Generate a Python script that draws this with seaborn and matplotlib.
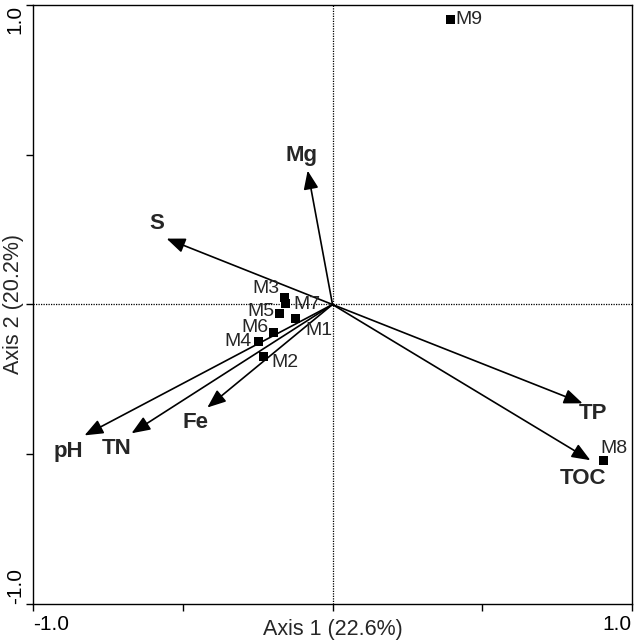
import matplotlib
matplotlib.use("Agg")
import matplotlib.pyplot as plt
import seaborn as sns
import pandas as pd

# Sample scores
samples = ["M1", "M2", "M3", "M4", "M5", "M6", "M7", "M8", "M9"]
sample_x = [-0.124, -0.230, -0.160, -0.247, -0.177, -0.197, -0.157, 0.905, 0.394]
sample_y = [-0.047, -0.174, 0.023, -0.124, -0.030, -0.093, 0.003, -0.521, 0.952]

# Environmental vectors
env_vars = ["Mg", "S", "TP", "TOC", "pH", "TN", "Fe"]
env_x = [-0.083, -0.554, 0.835, 0.861, -0.828, -0.671, -0.418]
env_y = [0.447, 0.220, -0.330, -0.520, -0.437, -0.430, -0.344]

x_label = "Axis 1 (22.6%)"
y_label = "Axis 2 (20.2%)"

sns.set_theme(style="white")
plt.rcParams["font.family"] = ["Liberation Sans", "DejaVu Sans"]

fig = plt.figure(figsize=(6.38, 6.41), dpi=100)
ax = fig.add_axes([33 / 638, 1 - 604 / 641, (632 - 33) / 638, (604 - 5) / 641])

df = pd.DataFrame({"x": sample_x, "y": sample_y, "name": samples})

ax.axhline(0, color="black", lw=0.9, ls=(0, (1, 1)), zorder=1)
ax.axvline(0, color="black", lw=0.9, ls=(0, (1, 1)), zorder=1)

# arrows
for name, ex, ey in zip(env_vars, env_x, env_y):
    ax.annotate("", xy=(ex, ey), xytext=(0, 0),
                arrowprops=dict(arrowstyle="-|>,head_length=0.75,head_width=0.3",
                                color="black", lw=1.2, mutation_scale=15,
                                shrinkA=0, shrinkB=0), zorder=2)

label_off = {
    "Mg": (-0.02, 0.05, "center"),
    "S": (-0.033, 0.05, "center"),
    "TP": (0.035, -0.035, "center"),
    "TOC": (-0.025, -0.06, "center"),
    "pH": (-0.055, -0.055, "center"),
    "TN": (-0.05, -0.05, "center"),
    "Fe": (-0.04, -0.05, "center"),
}
for name, ex, ey in zip(env_vars, env_x, env_y):
    dx, dy, ha = label_off[name]
    ax.text(ex + dx, ey + dy, name, fontsize=16, fontweight="bold",
            ha=ha, va="center", zorder=4)

sns.scatterplot(data=df, x="x", y="y", marker="s", color="black", s=45,
                edgecolor="none", ax=ax, zorder=3, legend=False)

pt_off = {
    "M1": (0.033, -0.04, "left"),
    "M2": (0.025, -0.018, "left"),
    "M3": (-0.018, 0.03, "right"),
    "M4": (-0.022, 0.0, "right"),
    "M5": (-0.015, 0.008, "right"),
    "M6": (-0.018, 0.015, "right"),
    "M7": (0.025, -0.002, "left"),
    "M8": (-0.01, 0.04, "left"),
    "M9": (0.016, 0.0, "left"),
}
for name, px, py in zip(samples, sample_x, sample_y):
    dx, dy, ha = pt_off[name]
    ax.text(px + dx, py + dy, name, fontsize=14, ha=ha, va="center", zorder=4)

ax.set_xlim(-1, 1)
ax.set_ylim(-1, 1)
ax.set_xticks([-1, -0.5, 0, 0.5, 1])
ax.set_xticklabels(["-1.0", "", "", "", "1.0"])
ax.set_yticks([-1, -0.5, 0, 0.5, 1])
ax.set_yticklabels(["-1.0", "", "", "", "1.0"], rotation=90)
xt = ax.get_xticklabels()
xt[0].set_ha("left")
xt[-1].set_ha("right")
yt = ax.get_yticklabels()
yt[0].set_va("bottom")
yt[-1].set_va("top")
ax.tick_params(axis="both", direction="out", length=5, width=1, labelsize=15,
               bottom=True, left=True, colors="black", pad=3)
ax.tick_params(axis="y", pad=1)
for s in ax.spines.values():
    s.set_color("black")
    s.set_linewidth(1)

ax.set_xlabel(x_label, fontsize=15.5)
ax.set_ylabel(y_label, fontsize=15.5)
ax.xaxis.set_label_coords(0.5, -0.025, transform=ax.transAxes)
ax.xaxis.label.set_va("top")
ax.yaxis.set_label_coords(-0.015, 0.5, transform=ax.transAxes)
ax.yaxis.label.set_va("bottom")

fig.savefig("out.png", dpi=100)
